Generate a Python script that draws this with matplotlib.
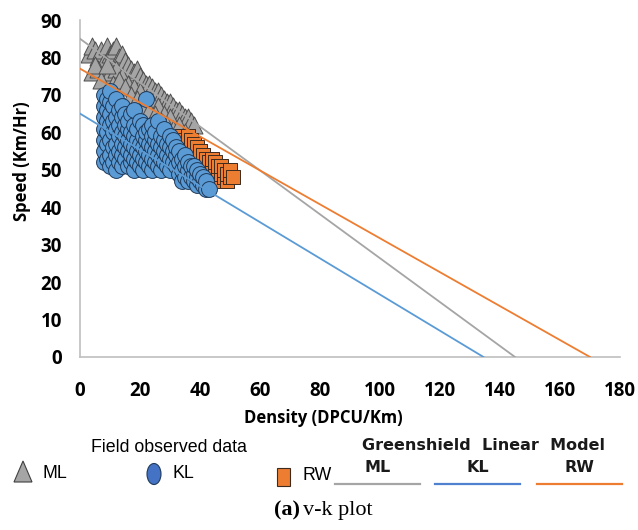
#!/usr/bin/env python

import numpy as np
import matplotlib
matplotlib.use("agg")
import matplotlib.pyplot as plt
from matplotlib import font_manager
from matplotlib.patches import Polygon, Ellipse, Rectangle

# field observed data, density (DPCU/Km) and speed (Km/Hr)
ml_k = [3, 4, 5, 6, 7, 8, 9, 10, 11, 12, 13, 14, 15, 16, 17, 18, 19, 20, 21, 22,
        23, 24, 25, 26, 27, 28, 29, 30, 31, 32, 33, 34, 35, 36, 37, 38,
        4, 6, 8, 10, 12, 14, 16, 18, 20, 22, 24, 26, 28, 30,
        5, 7, 9, 11, 13, 15, 17, 19, 21, 23, 25, 27, 29, 31, 33, 35,
        20, 23, 26]
ml_v = [81, 83, 82, 80, 82, 79, 83, 81, 82, 83, 80, 81, 79, 78, 77, 76, 77, 75, 74, 73,
        73, 72, 71, 71, 70, 69, 68, 68, 67, 66, 66, 65, 64, 64, 63, 62,
        76, 77, 75, 76, 77, 75, 73, 72, 71, 69, 68, 67, 65, 64,
        78, 74, 78, 73, 74, 72, 70, 69, 67, 66, 65, 63, 62, 61, 62, 60,
        58, 60, 57]

kl_k = [8, 8, 8, 8, 8, 8, 8, 9, 9, 9, 9, 9, 9,
        10, 10, 10, 10, 10, 10, 10, 11, 11, 11, 11, 11,
        12, 12, 12, 12, 12, 12, 13, 13, 13, 13, 13,
        14, 14, 14, 14, 14, 14, 15, 15, 15, 15, 15,
        16, 16, 16, 16, 16, 17, 17, 17, 17, 17,
        18, 18, 18, 18, 18, 18, 19, 19, 19, 19, 20, 20, 20, 20,
        21, 21, 21, 21, 21, 22, 22, 22, 22, 22, 23, 23, 23, 23,
        24, 24, 24, 24, 24, 25, 25, 25, 25, 26, 26, 26, 26,
        27, 27, 27, 27, 28, 28, 28, 28, 29, 29, 29, 30, 30, 30, 30,
        31, 31, 31, 32, 32, 32, 33, 33, 33, 34, 34, 34, 35, 35, 35,
        36, 36, 36, 37, 37, 38, 38, 38, 39, 39, 39, 40, 40, 41, 41, 42, 42, 43]
kl_v = [52, 55, 58, 61, 64, 67, 70, 53, 57, 60, 63, 66, 69,
        51, 54, 58, 62, 65, 68, 71, 52, 56, 60, 63, 67,
        50, 54, 57, 61, 64, 69, 52, 55, 59, 62, 66,
        51, 54, 57, 60, 64, 67, 53, 56, 59, 62, 65,
        51, 55, 58, 61, 63, 52, 54, 57, 60, 65,
        50, 53, 56, 59, 62, 66, 52, 55, 58, 61, 51, 54, 57, 63,
        50, 53, 56, 59, 62, 52, 55, 58, 69, 60, 51, 54, 57, 61,
        50, 53, 56, 59, 62, 52, 55, 58, 60, 51, 54, 57, 63,
        50, 53, 56, 59, 52, 55, 58, 61, 51, 54, 57, 50, 53, 56, 59,
        52, 55, 58, 51, 54, 56, 49, 52, 55, 47, 50, 53, 48, 51, 54,
        47, 50, 52, 48, 51, 47, 49, 51, 46, 48, 50, 47, 49, 46, 48, 45, 47, 45]

rw_k = [33, 33, 34, 34, 34, 35, 35, 35, 36, 36, 36, 36, 37, 37, 37, 37,
        38, 38, 38, 39, 39, 39, 40, 40, 40, 41, 41, 42, 42, 42, 43, 43,
        44, 44, 44, 45, 45, 45, 46, 46, 47, 47, 47, 48, 48, 49, 49, 50, 50, 51]
rw_v = [55, 58, 53, 57, 59, 52, 55, 58, 51, 54, 57, 59, 50, 53, 56, 58,
        52, 55, 57, 50, 53, 56, 49, 52, 55, 51, 54, 48, 50, 53, 49, 52,
        48, 51, 53, 47, 50, 52, 48, 51, 47, 49, 51, 48, 50, 47, 49, 48, 50, 48]

# Greenshield linear model: free speed and jam density
model_names = ["ML", "KL", "RW"]
free_speed = [85, 65, 77]
jam_density = [145, 134.5, 170]
line_colors = ["#a5a5a5", "#5b9bd5", "#ed7d31"]

names = {f.name for f in font_manager.fontManager.ttflist}
if "Liberation Sans Narrow" in names:
    narrow = dict(family="Liberation Sans Narrow", size=15.5)
else:
    narrow = dict(family="Liberation Sans", size=12.8)

fig = plt.figure(figsize=(6.38, 5.3), dpi=100)
ax = fig.add_axes([80/638, 173/530, 540/638, 337/530])

ax.scatter(ml_k, ml_v, marker="^", s=150, c="#a5a5a5", edgecolors="#4d4d4d",
           linewidths=0.7, zorder=2)
ax.scatter(rw_k, rw_v, marker="s", s=100, c="#ed7d31", edgecolors="#3d2b1f",
           linewidths=0.7, zorder=3)
ax.scatter(kl_k, kl_v, marker="o", s=130, c="#5b9bd5", edgecolors="#1f3a5a",
           linewidths=0.7, zorder=4)

for vf, kj, col in zip(free_speed, jam_density, line_colors):
    k = np.linspace(0, kj, 50)
    ax.plot(k, vf * (1 - k / kj), color=col, lw=1.3, zorder=5)

ax.set_xlim(0, 180)
ax.set_ylim(0, 90)
ax.set_xticks(np.arange(0, 181, 20))
ax.set_yticks(np.arange(0, 91, 10))
for s in ["top", "right"]:
    ax.spines[s].set_visible(False)
for s in ["left", "bottom"]:
    ax.spines[s].set_color("#bfbfbf")
    ax.spines[s].set_linewidth(1.2)
ax.tick_params(length=0)
ax.tick_params(axis="x", pad=17)
ax.tick_params(axis="y", pad=13)
for lab in ax.get_xticklabels() + ax.get_yticklabels():
    lab.set_fontfamily("Open Sans")
    lab.set_fontweight("bold")
    lab.set_fontsize(13.5)

# overlay in pixel units for the axis titles and the legend
lg = fig.add_axes([0, 0, 1, 1])
lg.set_xlim(0, 638)
lg.set_ylim(530, 0)
lg.axis("off")

lg.text(323, 418, "Density (DPCU/Km)", ha="center", va="center",
        family="Open Sans", weight="bold", size=12)
lg.text(22, 161, "Speed (Km/Hr)", ha="center", va="center", rotation=90,
        family="Open Sans", weight="bold", size=12)

lg.text(169, 448, "Field observed data", ha="center", va="center", **narrow)
lg.add_patch(Polygon([[14, 482], [32, 482], [23, 461]], closed=True,
                     fc="#a5a5a5", ec="#404040", lw=0.8))
lg.text(43, 474, "ML", ha="left", va="center", **narrow)
lg.add_patch(Ellipse((154, 474), 14, 21, fc="#4472c4", ec="#1f3a5a", lw=0.8))
lg.text(172, 474, "KL", ha="left", va="center", **narrow)
lg.add_patch(Rectangle((277, 468), 13, 18, fc="#ed7d31", ec="#3d2b1f", lw=0.8))
lg.text(302, 476, "RW", ha="left", va="center", **narrow)

lg.text(483, 445, "Greenshield  Linear  Model", ha="center", va="center",
        family="DejaVu Sans", weight="bold", size=11.5, color="#1a1a1a")
key_x = [(335, 420), (435, 520), (537, 622)]
key_colors = ["#a5a5a5", "#4f81d0", "#ed7d31"]
for name, (x0, x1), col in zip(model_names, key_x, key_colors):
    lg.text((x0 + x1) / 2, 468, name, ha="center", va="center",
            family="DejaVu Sans", weight="bold", size=11.5, color="#1a1a1a")
    lg.plot([x0, x1], [484, 484], color=col, lw=1.6)

lg.text(300, 510, "(a)", ha="right", va="center", family="Liberation Serif",
        weight="bold", size=16)
lg.text(303, 510, "v-k plot", ha="left", va="center", family="Liberation Serif",
        size=16)

fig.savefig("out.png", dpi=100)
